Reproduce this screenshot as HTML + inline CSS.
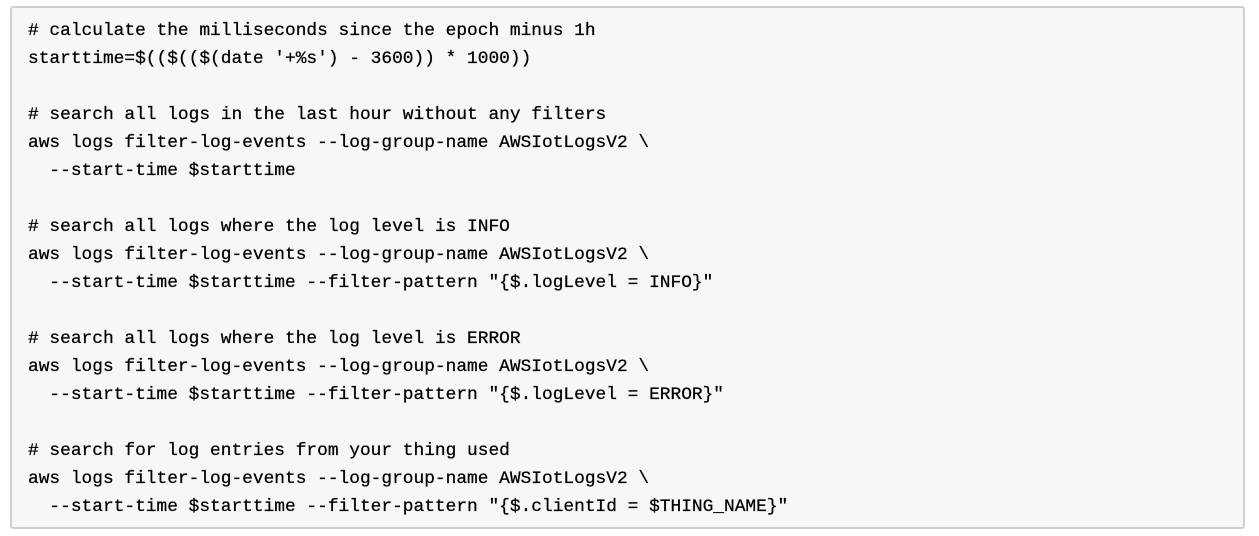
<!DOCTYPE html>
<html><head><style>
html,body{margin:0;padding:0;background:#fff;width:1259px;height:536px;overflow:hidden}
.box{position:absolute;left:10px;top:6px;width:1231px;height:519px;border:2px solid #cfcfcf;border-radius:3px;background:#f7f7f7}
pre{position:absolute;left:16px;top:9px;margin:0;font-family:"Liberation Mono","DejaVu Sans Mono",monospace;font-size:17.85px;line-height:28px;color:#000;-webkit-text-stroke:0.25px #000}
</style></head><body>
<div class="box"><pre># calculate the milliseconds since the epoch minus 1h
starttime=$(($(($(date '+%s') - 3600)) * 1000))

# search all logs in the last hour without any filters
aws logs filter-log-events --log-group-name AWSIotLogsV2 \
  --start-time $starttime

# search all logs where the log level is INFO
aws logs filter-log-events --log-group-name AWSIotLogsV2 \
  --start-time $starttime --filter-pattern "{$.logLevel = INFO}"

# search all logs where the log level is ERROR
aws logs filter-log-events --log-group-name AWSIotLogsV2 \
  --start-time $starttime --filter-pattern "{$.logLevel = ERROR}"

# search for log entries from your thing used
aws logs filter-log-events --log-group-name AWSIotLogsV2 \
  --start-time $starttime --filter-pattern "{$.clientId = $THING_NAME}"</pre></div>
</body></html>
